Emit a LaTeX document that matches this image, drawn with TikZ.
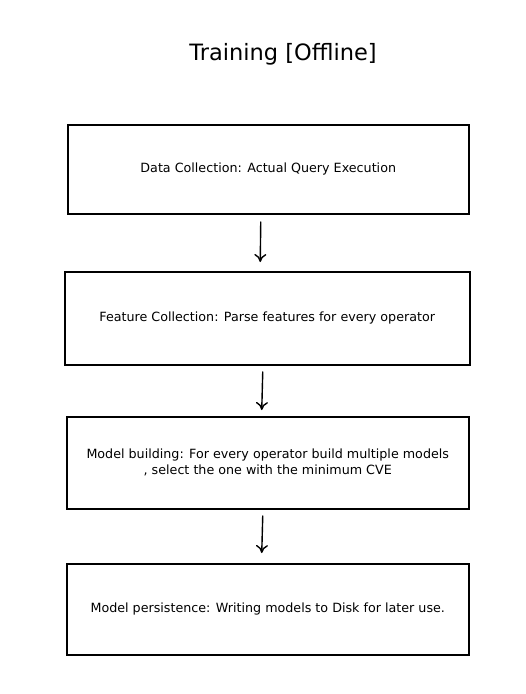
\documentclass[tikz,border=0pt]{standalone}
\usepackage{fontspec}
\setmainfont{DejaVu Sans}
\usetikzlibrary{arrows.meta}
\begin{document}
\begin{tikzpicture}[x=1pt,y=-1pt,
  stage/.style={draw=black,line width=1.5pt,anchor=north west,inner sep=0pt,
    align=center,font=\fontsize{12.7}{16}\selectfont},
  arr/.style={line width=1.4pt,-{To[length=8pt,width=12pt,line width=1.4pt]}}]
\useasboundingbox (0,0) rectangle (526,694);
\node[font=\fontsize{22.5}{26}\selectfont] (title) at (283,54) {Training [Offline]};
\node[stage,minimum width=401pt,minimum height=89pt] (d1) at (67,124) {Data Collection: Actual Query Execution};
\node[stage,minimum width=405pt,minimum height=93pt] (d2) at (64,271) {Feature Collection: Parse features for every operator};
\node[stage,minimum width=402pt,minimum height=92pt] (d3) at (66,416) {Model building: For every operator build multiple models\\, select the one with the minimum CVE};
\node[stage,minimum width=402pt,minimum height=91pt] (d4) at (66,563) {Model persistence: Writing models to Disk for later use.};
\draw[arr] ([xshift=-7.5pt,yshift=-7pt]d1.south) -- ([xshift=-7pt,yshift=9pt]d2.north);
\draw[arr] ([xshift=-4.5pt,yshift=-6pt]d2.south) -- ([xshift=-6pt,yshift=6pt]d3.north);
\draw[arr] ([xshift=-5pt,yshift=-6pt]d3.south) -- ([xshift=-6pt,yshift=10pt]d4.north);
\end{tikzpicture}
\end{document}
